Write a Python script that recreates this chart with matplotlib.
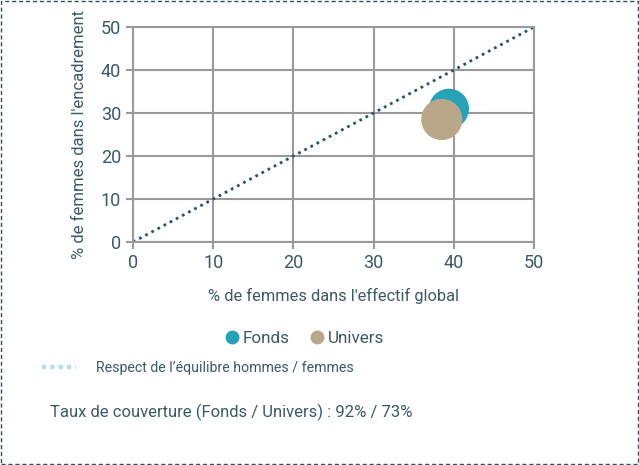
import matplotlib
matplotlib.use("Agg")
import matplotlib.pyplot as plt
from matplotlib.patches import Rectangle
from matplotlib.lines import Line2D
from matplotlib import font_manager

names = {f.name for f in font_manager.fontManager.ttflist}
fam = [n for n in ["Liberation Sans Narrow", "DejaVu Sans Condensed", "Roboto", "DejaVu Sans"] if n in names]
plt.rcParams['font.family'] = fam + ["DejaVu Sans"]

series = ["Fonds", "Univers"]
x_vals = [39.4, 38.5]
y_vals = [31.0, 28.5]
colors = ["#26a3b9", "#baa688"]
xticks = [0, 10, 20, 30, 40, 50]
yticks = [0, 10, 20, 30, 40, 50]
xlabel = "% de femmes dans l'effectif global"
ylabel = "% de femmes dans l'encadrement"
ref_label = "Respect de l\u2019équilibre hommes / femmes"
coverage = "Taux de couverture (Fonds / Univers) : 92% / 73%"

txt = "#3a5a67"
W, H = 639, 465
fig = plt.figure(figsize=(W/100, H/100), dpi=100)
ax = fig.add_axes([133/W, 1-242/H, (534-133)/W, (242-27)/H])
ax.set_xlim(0, 50)
ax.set_ylim(0, 50)
ax.set_xticks(xticks)
ax.set_yticks(yticks)
ax.grid(True, color="#9a9a9a", lw=1.5)
ax.set_axisbelow(True)
for s in ax.spines.values():
    s.set_color("#9a9a9a")
    s.set_linewidth(1.5)
ax.tick_params(colors="#9a9a9a", labelcolor=txt, labelsize=13, length=5, width=1.5)
ax.plot([0, 50], [0, 50], ls=(0, (1, 1.5)), color="#2b5566", lw=2, zorder=2)
for xv, yv, c, n, s in zip(x_vals, y_vals, colors, series, [830, 880]):
    ax.scatter([xv], [yv], s=s, color=c, label=n, zorder=3, edgecolors="none")
ax.set_xlabel(xlabel, color=txt, fontsize=11.8, labelpad=12)
ax.set_ylabel(ylabel, color=txt, fontsize=12, labelpad=10)

handles = [Line2D([], [], marker="o", ls="none", color=c, markersize=9) for c in colors]
fig.legend(handles, series, loc="center", bbox_to_anchor=(305/W, 1-338/H), ncol=2,
           frameon=False, fontsize=12.3, labelcolor=txt, handlelength=0.7,
           handletextpad=0.25, columnspacing=1.3)

fig.add_artist(Line2D([42/W, 76/W], [1-367/H, 1-367/H], ls=(0, (1, 1)), color="#b8dde6", lw=3))
fig.text(96/W, 1-368/H, ref_label, color=txt, fontsize=10.2, va="center")
fig.text(50/W, 1-412/H, coverage, color=txt, fontsize=12, va="center")

fig.add_artist(Rectangle((1/W, 1/H), (W-2)/W, (H-2)/H, fill=False, ls=(0, (3, 2)),
                         edgecolor="#2b5566", lw=1, transform=fig.transFigure))
fig.savefig("out.png", dpi=100)
